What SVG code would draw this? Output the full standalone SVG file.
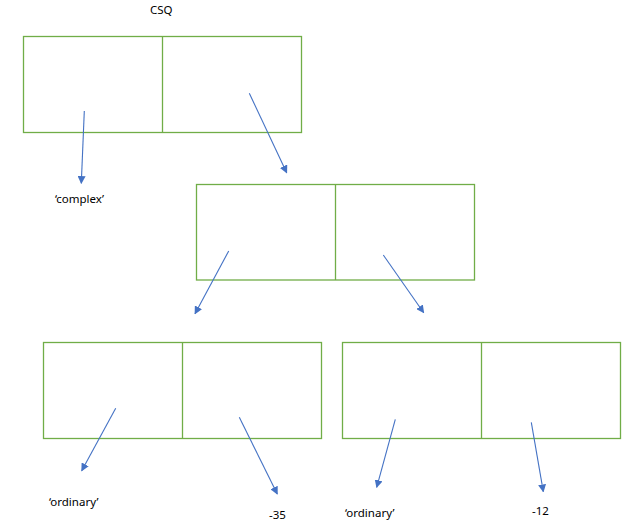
<svg xmlns="http://www.w3.org/2000/svg" width="629" height="528" viewBox="0 0 629 528">
<style>
.box{fill:#fff;stroke:#70AD47;stroke-width:1.3}
.div{stroke:#70AD47;stroke-width:1.3}
.con{stroke:#4472C4;stroke-width:1.1;fill:none;marker-end:url(#ah)}
text{font-family:"Noto Sans","DejaVu Sans",sans-serif;font-size:11.5px;fill:#000}
</style>
<defs>
<marker id="ah" viewBox="0 0 10 10" refX="9" refY="5" markerWidth="8" markerHeight="8" markerUnits="userSpaceOnUse" orient="auto">
<path d="M0,0 L10,5 L0,10 z" fill="#4472C4"/>
</marker>
</defs>
<rect width="629" height="528" fill="#fff"/>
<text x="150" y="14">CSQ</text>
<g id="node-top">
<rect class="box" x="23.5" y="36.5" width="278" height="96"/>
<line class="div" x1="162.5" y1="36.5" x2="162.5" y2="132.5"/>
</g>
<g id="node-mid">
<rect class="box" x="196.5" y="184.5" width="278" height="95.5"/>
<line class="div" x1="335.5" y1="184.5" x2="335.5" y2="280"/>
</g>
<g id="node-bl">
<rect class="box" x="43.5" y="342.5" width="278" height="96"/>
<line class="div" x1="182.5" y1="342.5" x2="182.5" y2="438.5"/>
</g>
<g id="node-br">
<rect class="box" x="342.5" y="342.5" width="278" height="96"/>
<line class="div" x1="481.5" y1="342.5" x2="481.5" y2="438.5"/>
</g>
<g id="labels">
<text x="55" y="203">‘complex’</text>
<text x="49" y="506">‘ordinary’</text>
<text x="269" y="519">-35</text>
<text x="345" y="517">‘ordinary’</text>
<text x="532" y="515">-12</text>
</g>
<g id="connectors">
<line class="con" x1="84.3" y1="111" x2="81.3" y2="183.3"/>
<line class="con" x1="249.3" y1="93.3" x2="286.7" y2="172.7"/>
<line class="con" x1="228.7" y1="251" x2="195" y2="313.7"/>
<line class="con" x1="383.3" y1="255" x2="423.7" y2="312.7"/>
<line class="con" x1="115.7" y1="408.3" x2="81.7" y2="470.7"/>
<line class="con" x1="239.3" y1="417.3" x2="277.3" y2="494"/>
<line class="con" x1="395.3" y1="419.3" x2="376.7" y2="487.3"/>
<line class="con" x1="531.3" y1="422.3" x2="543.3" y2="491.7"/>
</g>
</svg>
